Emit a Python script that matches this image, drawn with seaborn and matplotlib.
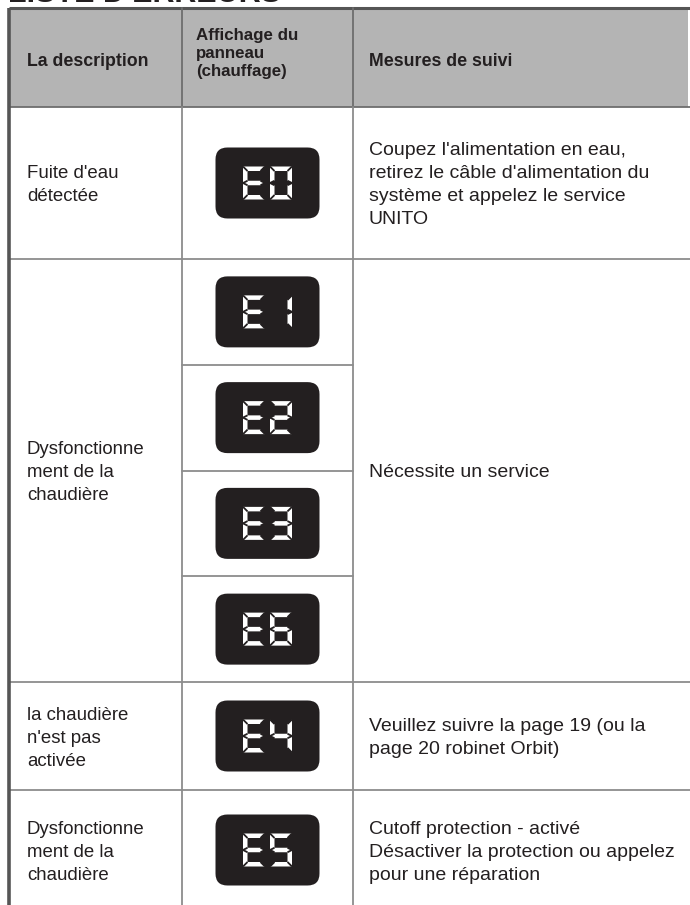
import matplotlib
matplotlib.use("Agg")
import matplotlib.pyplot as plt
import seaborn as sns
from matplotlib.patches import Rectangle, FancyBboxPatch, Polygon

# ---------------- data ----------------
title = "LISTE D'ERREURS"
headers = ["La description", "Affichage du\npanneau\n(chauffage)", "Mesures de suivi"]
descriptions = ["Fuite d'eau\ndétectée",
                "Dysfonctionne\nment de la\nchaudière",
                "la chaudière\nn'est pas\nactivée",
                "Dysfonctionne\nment de la\nchaudière"]
codes = [["E0"], ["E1", "E2", "E3", "E6"], ["E4"], ["E5"]]
actions = ["Coupez l'alimentation en eau,\nretirez le câble d'alimentation du\nsystème et appelez le service\nUNITO",
           "Nécessite un service",
           "Veuillez suivre la page 19 (ou la\npage 20 robinet Orbit)",
           "Cutoff protection - activé\nDésactiver la protection ou appelez\npour une réparation"]
# seven-segment map
SEGMENTS = {"E": "adefg", "0": "abcdef", "1": "bc", "2": "abdeg", "3": "abcdg",
            "4": "bcfg", "5": "acdfg", "6": "acdefg"}

# ---------------- figure ----------------
sns.set_theme(style="white")
plt.rcParams['font.family'] = ['Liberation Sans', 'DejaVu Sans']
W, H = 690, 905
fig = plt.figure(figsize=(W / 100, H / 100), dpi=100)
ax = fig.add_axes([0, 0, 1, 1])
ax.set_xlim(0, W)
ax.set_ylim(H, 0)
ax.axis("off")

TXT = "#231f20"
GRID = "#8c8c8c"
DARK = "#555555"

x_left, x_c1, x_c2, x_right = 9, 182, 353, 690
y_top, y_head = 8, 107
row_bounds = [(107, 259), (259, 682), (682, 790), (790, 1020)]

# title (cut by the top edge)
ax.text(8, 2.0, title, fontsize=22, fontweight="bold", color=TXT, ha="left", va="baseline")

# header
ax.add_patch(Rectangle((x_left, y_top), x_right - 2 - x_left, y_head - y_top, facecolor="#b4b4b4", edgecolor="none"))
ax.plot([x_left, x_right], [y_top, y_top], color=DARK, lw=2.2, solid_capstyle="butt")
for xc in (x_c1, x_c2):
    ax.plot([xc, xc], [y_top, y_head], color="#6e6e6e", lw=1.3)
ax.plot([x_left, x_right], [y_head, y_head], color="#6e6e6e", lw=1.3)

def lines(x, yc, text, spacing, **kw):
    parts = text.split("\n")
    n = len(parts)
    for i, p in enumerate(parts):
        y = yc + (i - (n - 1) / 2) * spacing
        ax.text(x, y, p, ha="left", va="center_baseline", color=TXT, **kw)

lines(27, 59, headers[0], 18, fontsize=12.8, fontweight="bold")
lines(196, 52, headers[1], 18, fontsize=12.2, fontweight="bold")
lines(369, 59, headers[2], 18, fontsize=12.8, fontweight="bold")

# grid lines of body
for (a, b) in row_bounds:
    ax.plot([x_left, x_right], [b, b], color=GRID, lw=1.3)
for xc in (x_c1, x_c2):
    ax.plot([xc, xc], [y_head, H], color=GRID, lw=1.3)
ax.plot([x_left, x_left], [y_top, H], color=DARK, lw=2.6, solid_capstyle="butt")

def seven_seg(X, Y, w, h, t, segs):
    m = Y + h / 2
    polys = {
        "a": [(X, Y), (X + w, Y), (X + w - t, Y + t), (X + t, Y + t)],
        "d": [(X, Y + h), (X + w, Y + h), (X + w - t, Y + h - t), (X + t, Y + h - t)],
        "f": [(X, Y), (X + t, Y + t), (X + t, m - t / 2), (X, m)],
        "e": [(X, m), (X + t, m + t / 2), (X + t, Y + h - t), (X, Y + h)],
        "b": [(X + w, Y), (X + w - t, Y + t), (X + w - t, m - t / 2), (X + w, m)],
        "c": [(X + w, m), (X + w - t, m + t / 2), (X + w - t, Y + h - t), (X + w, Y + h)],
        "g": [(X, m), (X + t, m - t / 2), (X + w - t, m - t / 2), (X + w, m), (X + w - t, m + t / 2), (X + t, m + t / 2)],
    }
    for s in segs:
        ax.add_patch(Polygon(polys[s], closed=True, facecolor="white", edgecolor="none"))
    gap = dict(color="#231f20", lw=1.3, solid_capstyle="butt")
    for (p, q) in [((X, Y), (X + t, Y + t)), ((X + w, Y), (X + w - t, Y + t)),
                   ((X, Y + h), (X + t, Y + h - t)), ((X + w, Y + h), (X + w - t, Y + h - t)),
                   ((X, m), (X + t, m - t / 2)), ((X, m), (X + t, m + t / 2)),
                   ((X + w, m), (X + w - t, m - t / 2)), ((X + w, m), (X + w - t, m + t / 2))]:
        ax.plot([p[0], q[0]], [p[1], q[1]], **gap)

def display(cx, cy, code):
    bw, bh = 104, 71
    ax.add_patch(FancyBboxPatch((cx - bw / 2 + 12, cy - bh / 2 + 12), bw - 24, bh - 24,
                                boxstyle="round,pad=12", facecolor="#231f20", edgecolor="none"))
    dw, dh, gapx = 22, 33, 5
    x0 = cx - (2 * dw + gapx) / 2
    for i, ch in enumerate(code):
        seven_seg(x0 + i * (dw + gapx), cy - dh / 2, dw, dh, 4.5, SEGMENTS[ch])

cx_disp = (x_c1 + x_c2) / 2
for r, (a, b) in enumerate(row_bounds):
    bb = min(b, 910)
    yc = (a + bb) / 2
    lines(27, yc, descriptions[r], 23, fontsize=13.4)
    lines(369, yc, actions[r], 23, fontsize=14.0)
    sub = codes[r]
    sh = (bb - a) / len(sub)
    for k, code in enumerate(sub):
        display(cx_disp, a + sh * (k + 0.5), code)
        if k > 0:
            ax.plot([x_c1, x_c2], [a + sh * k, a + sh * k], color=GRID, lw=1.3)

fig.savefig("out.png", dpi=100)
